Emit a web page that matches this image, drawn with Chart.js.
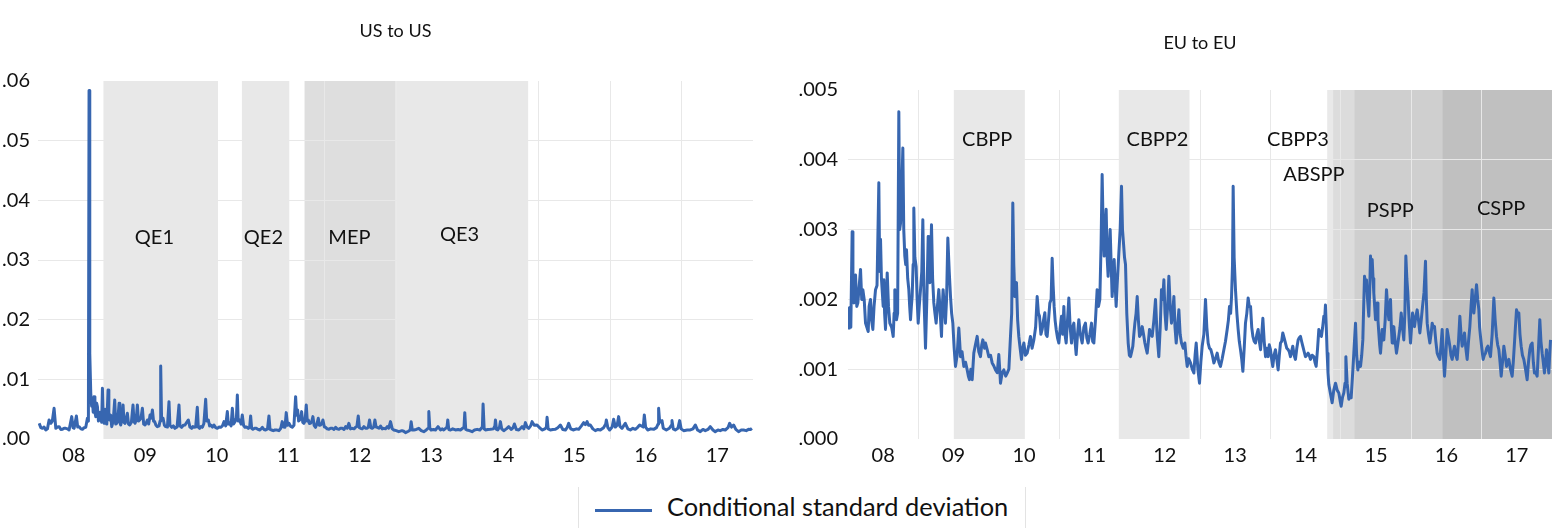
<!DOCTYPE html>
<html>
<head>
<meta charset="utf-8">
<title>Conditional standard deviation</title>
<script src="https://cdn.jsdelivr.net/npm/chart.js@4.4.1/dist/chart.umd.min.js"></script>
<style>
  html, body { margin: 0; padding: 0; background: #fff; }
  body { width: 1557px; height: 528px; position: relative; overflow: hidden; font-family: Lato, sans-serif; color: #111; }
  .panel { position: absolute; top: 0; }
  #usPanel { left: 0; }
  #euPanel { left: 780px; }
  #legend { position: absolute; left: 578px; top: 487px; width: 446px; height: 45px;
            border-left: 1px solid #e3e3e3; border-right: 1px solid #e3e3e3; }
  #legend .swatch { position: absolute; left: 16px; top: 22px; width: 57px; height: 3px; background: #3766b0; }
  #legend .label { position: absolute; left: 88px; top: 5px; font-size: 25.4px; line-height: 29px; white-space: nowrap; }
</style>
</head>
<body>
<div class="panel" id="usPanel"><canvas id="usChart" width="760" height="470" style="width:760px;height:470px"></canvas></div>
<div class="panel" id="euPanel"><canvas id="euChart" width="777" height="470" style="width:777px;height:470px"></canvas></div>
<div id="legend"><span class="swatch"></span><span class="label">Conditional standard deviation</span></div>

<script>
// x positions are in years (08 = 2008), values are conditional std. deviations
const yearTicks = [8, 9, 10, 11, 12, 13, 14, 15, 16, 17];
const yearLabels = ['08', '09', '10', '11', '12', '13', '14', '15', '16', '17'];
const usYTicks = [0, 0.01, 0.02, 0.03, 0.04, 0.05, 0.06];
const euYTicks = [0, 0.001, 0.002, 0.003, 0.004, 0.005];

const usTime = [
  7.516, 7.540, 7.562, 7.585, 7.609, 7.632, 7.655, 7.679, 7.700, 7.725,
  7.749, 7.772, 7.795, 7.820, 7.842, 7.865, 7.888, 7.912, 7.935, 7.972,
  7.990, 8.005, 8.037, 8.055, 8.075, 8.100, 8.121, 8.145, 8.168, 8.191,
  8.205, 8.214, 8.224, 8.238, 8.250, 8.261, 8.272, 8.284, 8.296, 8.308,
  8.320, 8.331, 8.345, 8.354, 8.366, 8.377, 8.390, 8.401, 8.412, 8.424,
  8.437, 8.447, 8.462, 8.480, 8.491, 8.503, 8.517, 8.531, 8.552, 8.573,
  8.587, 8.601, 8.618, 8.634, 8.645, 8.657, 8.674, 8.690, 8.703, 8.718,
  8.735, 8.750, 8.766, 8.783, 8.806, 8.829, 8.843, 8.857, 8.873, 8.890,
  8.905, 8.922, 8.940, 8.960, 8.978, 8.997, 9.013, 9.030, 9.048, 9.067,
  9.084, 9.100, 9.116, 9.132, 9.150, 9.169, 9.193, 9.207, 9.216, 9.228,
  9.249, 9.268, 9.286, 9.310, 9.332, 9.345, 9.370, 9.393, 9.416, 9.445,
  9.472, 9.485, 9.509, 9.532, 9.556, 9.580, 9.603, 9.625, 9.649, 9.665,
  9.682, 9.705, 9.728, 9.742, 9.761, 9.780, 9.798, 9.820, 9.845, 9.860,
  9.882, 9.900, 9.915, 9.940, 9.961, 9.985, 10.008, 10.030, 10.055, 10.080,
  10.101, 10.125, 10.148, 10.162, 10.180, 10.200, 10.218, 10.235, 10.255, 10.275,
  10.288, 10.300, 10.320, 10.340, 10.357, 10.375, 10.395, 10.420, 10.441, 10.460,
  10.474, 10.488, 10.506, 10.530, 10.553, 10.578, 10.600, 10.620, 10.637, 10.660,
  10.683, 10.710, 10.730, 10.745, 10.767, 10.790, 10.814, 10.845, 10.870, 10.895,
  10.916, 10.935, 10.954, 10.972, 10.990, 11.010, 11.035, 11.056, 11.080, 11.103,
  11.117, 11.131, 11.145, 11.159, 11.175, 11.187, 11.203, 11.219, 11.235, 11.252,
  11.266, 11.280, 11.296, 11.312, 11.330, 11.345, 11.362, 11.382, 11.400, 11.420,
  11.436, 11.452, 11.470, 11.485, 11.505, 11.522, 11.545, 11.569, 11.592, 11.615,
  11.640, 11.662, 11.685, 11.709, 11.730, 11.755, 11.780, 11.802, 11.825, 11.848,
  11.870, 11.895, 11.920, 11.941, 11.960, 11.979, 11.995, 12.011, 12.035, 12.058,
  12.080, 12.104, 12.120, 12.137, 12.155, 12.174, 12.195, 12.212, 12.228, 12.244,
  12.270, 12.291, 12.315, 12.337, 12.360, 12.384, 12.405, 12.430, 12.455, 12.477,
  12.510, 12.546, 12.590, 12.615, 12.640, 12.680, 12.705, 12.719, 12.735, 12.756,
  12.790, 12.826, 12.860, 12.896, 12.930, 12.955, 12.966, 12.980, 12.998, 13.030,
  13.059, 13.095, 13.129, 13.155, 13.175, 13.220, 13.231, 13.245, 13.269, 13.300,
  13.338, 13.375, 13.408, 13.440, 13.458, 13.469, 13.482, 13.502, 13.535, 13.571,
  13.605, 13.641, 13.680, 13.715, 13.725, 13.740, 13.758, 13.790, 13.828, 13.870,
  13.890, 13.898, 13.912, 13.930, 13.955, 13.967, 13.985, 14.014, 14.050, 14.084,
  14.120, 14.145, 14.163, 14.190, 14.224, 14.250, 14.270, 14.295, 14.317, 14.340,
  14.363, 14.390, 14.410, 14.440, 14.480, 14.515, 14.550, 14.590, 14.610, 14.620,
  14.635, 14.666, 14.700, 14.736, 14.770, 14.806, 14.840, 14.876, 14.900, 14.922,
  14.950, 14.992, 15.030, 15.062, 15.100, 15.132, 15.155, 15.179, 15.200, 15.225,
  15.260, 15.295, 15.330, 15.365, 15.410, 15.440, 15.449, 15.470, 15.495, 15.530,
  15.551, 15.575, 15.600, 15.621, 15.640, 15.668, 15.690, 15.714, 15.750, 15.784,
  15.820, 15.854, 15.890, 15.915, 15.965, 15.980, 15.998, 16.027, 16.070, 16.110,
  16.150, 16.172, 16.180, 16.195, 16.227, 16.245, 16.288, 16.330, 16.358, 16.367,
  16.385, 16.413, 16.450, 16.474, 16.495, 16.530, 16.580, 16.623, 16.660, 16.693,
  16.725, 16.763, 16.800, 16.833, 16.870, 16.902, 16.940, 16.972, 17.010, 17.042,
  17.080, 17.112, 17.150, 17.173, 17.200, 17.229, 17.260, 17.298, 17.335, 17.368,
  17.405, 17.438, 17.465, 17.485
];
const usValue = [
  2.63e-3, 1.9e-3, 1.79e-3, 2.0e-3, 1.51e-3, 1.7e-3, 3.19e-3, 2.63e-3, 3.0e-3, 5.15e-3,
  1.79e-3, 2.0e-3, 2.07e-3, 1.6e-3, 1.62e-3, 1.8e-3, 1.79e-3, 1.7e-3, 1.51e-3, 3.75e-3,
  1.9e-3, 1.79e-3, 3.86e-3, 2.0e-3, 2.07e-3, 1.7e-3, 1.62e-3, 1.9e-3, 1.96e-3, 3.47e-3,
  3.0e-3, 58.4e-3, 14.4e-3, 7.66e-3, 5.5e-3, 6.5e-3, 4.5e-3, 7.1e-3, 4.5e-3, 3.75e-3,
  6.0e-3, 5.43e-3, 3.0e-3, 3.19e-3, 4.5e-3, 4.03e-3, 2.8e-3, 8.5e-3, 3.5e-3, 2.63e-3,
  5.0e-3, 4.31e-3, 2.5e-3, 8.22e-3, 4.0e-3, 3.19e-3, 4.0e-3, 2.07e-3, 3.0e-3, 6.54e-3,
  2.5e-3, 2.63e-3, 3.5e-3, 5.98e-3, 2.8e-3, 2.35e-3, 3.2e-3, 5.7e-3, 2.8e-3, 2.63e-3,
  3.5e-3, 4.31e-3, 2.5e-3, 2.35e-3, 2.8e-3, 5.7e-3, 2.9e-3, 2.63e-3, 3.2e-3, 5.7e-3,
  3.0e-3, 3.19e-3, 3.5e-3, 5.15e-3, 2.5e-3, 2.35e-3, 2.7e-3, 3.19e-3, 2.5e-3, 4.03e-3,
  3.5e-3, 4.87e-3, 3.0e-3, 2.91e-3, 2.3e-3, 2.07e-3, 2.2e-3, 3.0e-3, 12.25e-3, 3.5e-3,
  3.47e-3, 2.3e-3, 2.07e-3, 2.0e-3, 6.26e-3, 2.3e-3, 1.96e-3, 2.2e-3, 1.79e-3, 2.0e-3,
  5.7e-3, 2.2e-3, 1.96e-3, 2.3e-3, 2.35e-3, 2.8e-3, 3.19e-3, 2.0e-3, 1.79e-3, 2.1e-3,
  1.96e-3, 2.0e-3, 5.31e-3, 2.0e-3, 1.79e-3, 2.1e-3, 1.96e-3, 2.6e-3, 6.65e-3, 3.0e-3,
  3.19e-3, 2.2e-3, 2.35e-3, 2.0e-3, 2.35e-3, 1.9e-3, 1.79e-3, 2.0e-3, 1.96e-3, 2.2e-3,
  2.91e-3, 2.2e-3, 4.59e-3, 2.5e-3, 2.63e-3, 2.2e-3, 5.15e-3, 2.5e-3, 2.91e-3, 3.5e-3,
  7.38e-3, 3.0e-3, 3.19e-3, 2.5e-3, 4.03e-3, 2.3e-3, 1.96e-3, 2.0e-3, 1.79e-3, 2.0e-3,
  3.86e-3, 1.8e-3, 1.62e-3, 1.8e-3, 1.79e-3, 1.6e-3, 1.51e-3, 1.7e-3, 1.96e-3, 1.6e-3,
  1.51e-3, 1.7e-3, 3.86e-3, 1.6e-3, 1.51e-3, 1.4e-3, 1.51e-3, 1.5e-3, 1.4e-3, 1.8e-3,
  2.91e-3, 2.0e-3, 1.96e-3, 4.42e-3, 2.3e-3, 2.63e-3, 2.1e-3, 1.96e-3, 2.3e-3, 7.1e-3,
  4.0e-3, 4.87e-3, 3.0e-3, 3.19e-3, 3.5e-3, 4.59e-3, 2.8e-3, 2.63e-3, 3.0e-3, 5.7e-3,
  3.0e-3, 3.19e-3, 2.6e-3, 2.63e-3, 3.0e-3, 3.75e-3, 2.3e-3, 1.96e-3, 2.5e-3, 3.47e-3,
  2.3e-3, 2.35e-3, 2.6e-3, 3.19e-3, 2.0e-3, 1.96e-3, 1.7e-3, 1.62e-3, 1.8e-3, 1.79e-3,
  1.6e-3, 1.96e-3, 1.7e-3, 1.62e-3, 1.8e-3, 1.79e-3, 1.6e-3, 2.07e-3, 1.8e-3, 2.63e-3,
  1.7e-3, 1.79e-3, 1.7e-3, 1.96e-3, 2.1e-3, 3.86e-3, 1.9e-3, 1.79e-3, 1.7e-3, 2.07e-3,
  1.8e-3, 1.79e-3, 2.0e-3, 3.19e-3, 1.9e-3, 1.79e-3, 2.0e-3, 3.19e-3, 2.0e-3, 1.96e-3,
  1.8e-3, 2.18e-3, 1.7e-3, 1.79e-3, 1.7e-3, 2.07e-3, 1.8e-3, 2.91e-3, 1.7e-3, 1.51e-3,
  1.4e-3, 1.23e-3, 1.4e-3, 1.3e-3, 1.06e-3, 1.3e-3, 1.5e-3, 2.91e-3, 1.5e-3, 1.51e-3,
  1.6e-3, 1.79e-3, 1.4e-3, 1.23e-3, 1.5e-3, 1.8e-3, 4.59e-3, 1.8e-3, 1.51e-3, 1.6e-3,
  1.51e-3, 2.07e-3, 1.51e-3, 1.7e-3, 1.51e-3, 2.0e-3, 3.19e-3, 1.6e-3, 1.51e-3, 1.7e-3,
  1.51e-3, 1.6e-3, 1.51e-3, 1.8e-3, 2.0e-3, 4.42e-3, 1.6e-3, 1.51e-3, 1.4e-3, 1.23e-3,
  1.5e-3, 1.62e-3, 1.5e-3, 2.0e-3, 5.87e-3, 1.7e-3, 1.51e-3, 1.6e-3, 1.62e-3, 1.7e-3,
  2.2e-3, 3.19e-3, 1.6e-3, 1.51e-3, 2.0e-3, 2.91e-3, 1.7e-3, 1.4e-3, 1.7e-3, 2.07e-3,
  1.6e-3, 1.9e-3, 2.52e-3, 1.6e-3, 1.51e-3, 1.8e-3, 2.07e-3, 1.7e-3, 2.74e-3, 2.0e-3,
  1.79e-3, 2.2e-3, 2.91e-3, 2.3e-3, 2.35e-3, 1.9e-3, 1.51e-3, 1.7e-3, 2.0e-3, 3.64e-3,
  1.7e-3, 1.51e-3, 1.6e-3, 1.62e-3, 1.9e-3, 2.35e-3, 1.6e-3, 1.51e-3, 1.9e-3, 2.63e-3,
  1.7e-3, 1.51e-3, 1.7e-3, 1.62e-3, 2.2e-3, 2.74e-3, 2.4e-3, 2.91e-3, 2.3e-3, 2.35e-3,
  1.7e-3, 1.4e-3, 1.6e-3, 1.51e-3, 1.9e-3, 2.5e-3, 3.19e-3, 1.9e-3, 1.51e-3, 2.0e-3,
  3.3e-3, 2.0e-3, 2.3e-3, 3.75e-3, 2.1e-3, 1.79e-3, 2.2e-3, 2.63e-3, 1.7e-3, 1.51e-3,
  1.8e-3, 1.62e-3, 2.0e-3, 2.35e-3, 2.0e-3, 4.03e-3, 2.0e-3, 1.51e-3, 1.7e-3, 1.62e-3,
  1.9e-3, 2.5e-3, 5.15e-3, 2.8e-3, 3.08e-3, 1.8e-3, 1.51e-3, 1.8e-3, 2.3e-3, 3.08e-3,
  1.7e-3, 1.51e-3, 1.8e-3, 3.08e-3, 1.7e-3, 1.4e-3, 1.5e-3, 1.51e-3, 1.7e-3, 2.35e-3,
  1.5e-3, 1.23e-3, 1.6e-3, 1.4e-3, 1.6e-3, 2.07e-3, 1.5e-3, 1.23e-3, 1.5e-3, 1.4e-3,
  1.6e-3, 1.51e-3, 1.9e-3, 2.63e-3, 2.0e-3, 2.35e-3, 1.6e-3, 1.23e-3, 1.5e-3, 1.51e-3,
  1.4e-3, 1.62e-3, 1.6e-3, 1.79e-3
];

const euTime = [
  7.512, 7.521, 7.540, 7.559, 7.570, 7.583, 7.595, 7.607, 7.625, 7.640,
  7.660, 7.678, 7.695, 7.711, 7.730, 7.749, 7.768, 7.787, 7.800, 7.820,
  7.835, 7.853, 7.870, 7.891, 7.912, 7.938, 7.950, 7.962, 7.975, 7.985,
  8.000, 8.009, 8.020, 8.033, 8.045, 8.057, 8.075, 8.094, 8.120, 8.142,
  8.155, 8.165, 8.178, 8.189, 8.205, 8.222, 8.234, 8.246, 8.262, 8.279,
  8.292, 8.307, 8.320, 8.331, 8.348, 8.364, 8.376, 8.388, 8.400, 8.411,
  8.425, 8.435, 8.450, 8.468, 8.482, 8.497, 8.512, 8.530, 8.548, 8.563,
  8.580, 8.601, 8.620, 8.639, 8.650, 8.662, 8.675, 8.686, 8.702, 8.719,
  8.735, 8.752, 8.770, 8.790, 8.810, 8.828, 8.840, 8.851, 8.868, 8.884,
  8.900, 8.918, 8.938, 8.956, 8.972, 8.989, 9.008, 9.027, 9.050, 9.074,
  9.086, 9.098, 9.120, 9.145, 9.170, 9.193, 9.210, 9.226, 9.245, 9.264,
  9.287, 9.310, 9.335, 9.358, 9.382, 9.400, 9.415, 9.440, 9.453, 9.477,
  9.500, 9.525, 9.548, 9.570, 9.595, 9.620, 9.642, 9.655, 9.666, 9.690,
  9.713, 9.740, 9.761, 9.785, 9.808, 9.825, 9.841, 9.855, 9.870, 9.882,
  9.893, 9.910, 9.926, 9.945, 9.964, 9.980, 9.998, 10.020, 10.045, 10.070,
  10.092, 10.115, 10.140, 10.165, 10.187, 10.205, 10.220, 10.240, 10.258, 10.277,
  10.296, 10.312, 10.329, 10.348, 10.367, 10.385, 10.400, 10.414, 10.428, 10.442,
  10.457, 10.476, 10.495, 10.515, 10.533, 10.550, 10.566, 10.582, 10.599, 10.618,
  10.637, 10.656, 10.675, 10.690, 10.708, 10.725, 10.741, 10.760, 10.779, 10.800,
  10.826, 10.850, 10.873, 10.892, 10.911, 10.935, 10.959, 10.975, 10.992, 11.015,
  11.039, 11.058, 11.077, 11.095, 11.110, 11.125, 11.139, 11.153, 11.167, 11.181,
  11.195, 11.210, 11.224, 11.238, 11.252, 11.267, 11.281, 11.295, 11.309, 11.328,
  11.347, 11.366, 11.385, 11.399, 11.413, 11.428, 11.442, 11.460, 11.480, 11.497,
  11.513, 11.530, 11.546, 11.560, 11.575, 11.592, 11.608, 11.625, 11.641, 11.660,
  11.679, 11.698, 11.717, 11.733, 11.750, 11.767, 11.783, 11.800, 11.821, 11.845,
  11.868, 11.890, 11.915, 11.935, 11.953, 11.970, 11.987, 12.003, 12.020, 12.040,
  12.058, 12.077, 12.095, 12.112, 12.129, 12.145, 12.162, 12.180, 12.200, 12.218,
  12.237, 12.262, 12.285, 12.300, 12.318, 12.340, 12.365, 12.390, 12.413, 12.430,
  12.446, 12.470, 12.493, 12.512, 12.531, 12.555, 12.578, 12.597, 12.616, 12.635,
  12.654, 12.675, 12.697, 12.720, 12.744, 12.768, 12.791, 12.815, 12.839, 12.862,
  12.886, 12.903, 12.919, 12.935, 12.948, 12.962, 12.971, 12.985, 13.004, 13.024,
  13.042, 13.058, 13.075, 13.092, 13.109, 13.128, 13.146, 13.165, 13.184, 13.200,
  13.218, 13.235, 13.251, 13.270, 13.289, 13.308, 13.326, 13.343, 13.360, 13.377,
  13.393, 13.412, 13.431, 13.450, 13.468, 13.484, 13.501, 13.517, 13.534, 13.552,
  13.572, 13.590, 13.610, 13.627, 13.643, 13.660, 13.676, 13.695, 13.714, 13.733,
  13.752, 13.768, 13.785, 13.800, 13.818, 13.837, 13.856, 13.875, 13.894, 13.910,
  13.927, 13.943, 13.960, 13.980, 13.998, 14.017, 14.036, 14.052, 14.069, 14.093,
  14.117, 14.133, 14.150, 14.170, 14.188, 14.205, 14.225, 14.242, 14.259, 14.270,
  14.282, 14.294, 14.306, 14.318, 14.330, 14.353, 14.377, 14.400, 14.425, 14.448,
  14.472, 14.490, 14.505, 14.525, 14.543, 14.560, 14.572, 14.590, 14.614, 14.630,
  14.647, 14.666, 14.685, 14.709, 14.725, 14.742, 14.760, 14.780, 14.797, 14.813,
  14.825, 14.837, 14.851, 14.865, 14.880, 14.898, 14.910, 14.922, 14.934, 14.946,
  14.958, 14.969, 14.981, 14.993, 15.005, 15.017, 15.028, 15.040, 15.052, 15.064,
  15.076, 15.088, 15.100, 15.111, 15.130, 15.149, 15.165, 15.182, 15.194, 15.206,
  15.218, 15.230, 15.241, 15.253, 15.272, 15.291, 15.308, 15.324, 15.341, 15.358,
  15.376, 15.395, 15.410, 15.424, 15.438, 15.452, 15.470, 15.490, 15.505, 15.519,
  15.533, 15.547, 15.565, 15.585, 15.604, 15.623, 15.642, 15.661, 15.682, 15.703,
  15.715, 15.727, 15.746, 15.765, 15.782, 15.798, 15.815, 15.831, 15.850, 15.869,
  15.888, 15.907, 15.924, 15.940, 15.957, 15.973, 15.992, 16.011, 16.030, 16.049,
  16.065, 16.082, 16.099, 16.115, 16.134, 16.153, 16.172, 16.191, 16.208, 16.224,
  16.240, 16.257, 16.276, 16.295, 16.314, 16.333, 16.350, 16.366, 16.378, 16.390,
  16.409, 16.428, 16.445, 16.461, 16.472, 16.484, 16.503, 16.522, 16.538, 16.555,
  16.572, 16.589, 16.608, 16.626, 16.650, 16.674, 16.693, 16.712, 16.728, 16.745,
  16.762, 16.778, 16.797, 16.816, 16.835, 16.854, 16.870, 16.887, 16.910, 16.934,
  16.950, 16.967, 16.980, 16.996, 17.012, 17.029, 17.045, 17.062, 17.080, 17.100,
  17.124, 17.147, 17.166, 17.185, 17.200, 17.218, 17.235, 17.251, 17.270, 17.289,
  17.308, 17.327, 17.343, 17.360, 17.376, 17.393, 17.408, 17.422, 17.438, 17.455,
  17.467, 17.479
];
const euValue = [
  1.57e-3, 1.88e-3, 1.6e-3, 2.97e-3, 2.0e-3, 1.95e-3, 2.3e-3, 2.35e-3, 1.9e-3, 1.95e-3,
  2.2e-3, 2.43e-3, 2.0e-3, 2.14e-3, 2.0e-3, 1.66e-3, 1.6e-3, 1.54e-3, 1.9e-3, 2.0e-3,
  1.7e-3, 1.57e-3, 1.9e-3, 2.14e-3, 2.2e-3, 3.67e-3, 2.4e-3, 2.86e-3, 2.3e-3, 2.14e-3,
  1.9e-3, 2.28e-3, 1.8e-3, 1.57e-3, 2.0e-3, 2.38e-3, 1.9e-3, 1.66e-3, 1.6e-3, 1.47e-3,
  1.8e-3, 2.14e-3, 1.9e-3, 1.71e-3, 1.8e-3, 4.69e-3, 3.0e-3, 3.09e-3, 3.5e-3, 4.17e-3,
  3.0e-3, 2.62e-3, 2.5e-3, 2.71e-3, 2.3e-3, 2.14e-3, 1.9e-3, 1.71e-3, 1.9e-3, 2.04e-3,
  2.5e-3, 3.31e-3, 2.6e-3, 2.47e-3, 2.0e-3, 1.66e-3, 1.9e-3, 2.14e-3, 2.4e-3, 3.14e-3,
  2.0e-3, 1.3e-3, 2.0e-3, 2.9e-3, 2.5e-3, 2.24e-3, 2.5e-3, 3.07e-3, 2.3e-3, 1.95e-3,
  1.8e-3, 1.66e-3, 1.9e-3, 2.14e-3, 1.8e-3, 1.47e-3, 1.9e-3, 2.14e-3, 1.9e-3, 1.66e-3,
  2.0e-3, 2.88e-3, 2.4e-3, 2.04e-3, 1.8e-3, 1.66e-3, 1.3e-3, 1.04e-3, 1.2e-3, 1.59e-3,
  1.4e-3, 1.18e-3, 1.25e-3, 1.04e-3, 1.1e-3, 0.99e-3, 0.9e-3, 0.85e-3, 1.0e-3, 0.85e-3,
  1.23e-3, 1.35e-3, 1.47e-3, 1.25e-3, 1.18e-3, 1.35e-3, 1.42e-3, 1.3e-3, 1.375e-3, 1.28e-3,
  1.18e-3, 1.2e-3, 1.09e-3, 1.05e-3, 0.99e-3, 0.95e-3, 1.21e-3, 1.0e-3, 0.8e-3, 0.95e-3,
  0.99e-3, 0.9e-3, 0.945e-3, 1.0e-3, 1.47e-3, 1.8e-3, 3.38e-3, 2.5e-3, 2.04e-3, 2.2e-3,
  2.24e-3, 1.7e-3, 1.47e-3, 1.3e-3, 1.14e-3, 1.3e-3, 1.375e-3, 1.2e-3, 1.23e-3, 1.35e-3,
  1.47e-3, 1.3e-3, 1.42e-3, 1.6e-3, 2.04e-3, 1.8e-3, 1.76e-3, 1.5e-3, 1.57e-3, 1.7e-3,
  1.81e-3, 1.5e-3, 1.47e-3, 1.7e-3, 1.95e-3, 2.0e-3, 2.59e-3, 2.2e-3, 1.9e-3, 1.7e-3,
  1.57e-3, 1.45e-3, 1.375e-3, 1.6e-3, 1.76e-3, 1.5e-3, 1.9e-3, 1.5e-3, 1.375e-3, 1.7e-3,
  2.02e-3, 1.6e-3, 1.375e-3, 1.6e-3, 1.66e-3, 1.4e-3, 1.21e-3, 1.5e-3, 1.71e-3, 1.5e-3,
  1.375e-3, 1.6e-3, 1.66e-3, 1.45e-3, 1.375e-3, 1.5e-3, 1.66e-3, 1.4e-3, 1.375e-3, 1.7e-3,
  2.14e-3, 1.9e-3, 2.0e-3, 2.8e-3, 3.79e-3, 3.0e-3, 2.62e-3, 3.0e-3, 3.29e-3, 2.6e-3,
  2.33e-3, 2.7e-3, 3.0e-3, 2.5e-3, 2.04e-3, 2.3e-3, 2.57e-3, 2.2e-3, 1.9e-3, 2.3e-3,
  2.66e-3, 3.0e-3, 3.62e-3, 3.0e-3, 2.81e-3, 2.6e-3, 2.5e-3, 1.8e-3, 1.375e-3, 1.2e-3,
  1.18e-3, 1.25e-3, 1.33e-3, 1.5e-3, 1.66e-3, 1.8e-3, 2.04e-3, 1.7e-3, 1.47e-3, 1.5e-3,
  1.61e-3, 1.5e-3, 1.375e-3, 1.3e-3, 1.23e-3, 1.4e-3, 1.57e-3, 1.5e-3, 1.47e-3, 1.7e-3,
  2.0e-3, 1.5e-3, 1.18e-3, 1.6e-3, 2.14e-3, 2.0e-3, 2.28e-3, 1.8e-3, 1.57e-3, 1.9e-3,
  2.33e-3, 1.9e-3, 1.66e-3, 1.8e-3, 2.04e-3, 1.6e-3, 1.375e-3, 1.6e-3, 1.85e-3, 1.5e-3,
  1.375e-3, 1.3e-3, 1.375e-3, 1.2e-3, 1.04e-3, 1.15e-3, 1.09e-3, 1.0e-3, 0.945e-3, 1.2e-3,
  1.375e-3, 1.0e-3, 0.8e-3, 1.1e-3, 1.33e-3, 1.5e-3, 2.0e-3, 1.6e-3, 1.375e-3, 1.3e-3,
  1.28e-3, 1.2e-3, 1.09e-3, 1.15e-3, 1.23e-3, 1.1e-3, 1.04e-3, 1.15e-3, 1.28e-3, 1.4e-3,
  1.57e-3, 1.7e-3, 1.9e-3, 1.8e-3, 2.04e-3, 2.5e-3, 3.62e-3, 2.6e-3, 2.14e-3, 1.8e-3,
  1.57e-3, 1.4e-3, 1.28e-3, 1.15e-3, 0.97e-3, 1.3e-3, 1.66e-3, 1.8e-3, 2.02e-3, 1.9e-3,
  1.9e-3, 1.6e-3, 1.47e-3, 1.4e-3, 1.375e-3, 1.5e-3, 1.57e-3, 1.4e-3, 1.28e-3, 1.5e-3,
  1.73e-3, 1.4e-3, 1.18e-3, 1.3e-3, 1.18e-3, 1.35e-3, 1.28e-3, 1.15e-3, 1.04e-3, 1.2e-3,
  1.28e-3, 1.15e-3, 0.99e-3, 1.2e-3, 1.375e-3, 1.4e-3, 1.52e-3, 1.45e-3, 1.375e-3, 1.3e-3,
  1.28e-3, 1.25e-3, 1.18e-3, 1.25e-3, 1.33e-3, 1.2e-3, 1.14e-3, 1.3e-3, 1.42e-3, 1.45e-3,
  1.47e-3, 1.4e-3, 1.33e-3, 1.25e-3, 1.18e-3, 1.2e-3, 1.23e-3, 1.2e-3, 1.14e-3, 1.2e-3,
  1.18e-3, 1.1e-3, 1.04e-3, 1.3e-3, 1.57e-3, 1.5e-3, 1.47e-3, 1.6e-3, 1.76e-3, 1.7e-3,
  1.92e-3, 1.6e-3, 1.23e-3, 0.95e-3, 0.78e-3, 0.65e-3, 0.52e-3, 0.7e-3, 0.8e-3, 0.7e-3,
  0.66e-3, 0.55e-3, 0.47e-3, 0.6e-3, 0.66e-3, 0.8e-3, 1.18e-3, 0.8e-3, 0.57e-3, 0.62e-3,
  0.59e-3, 0.9e-3, 1.23e-3, 1.66e-3, 1.2e-3, 0.99e-3, 1.1e-3, 1.04e-3, 1.2e-3, 1.42e-3,
  1.9e-3, 2.33e-3, 2.24e-3, 2.28e-3, 2.0e-3, 1.76e-3, 2.1e-3, 2.62e-3, 2.4e-3, 2.57e-3,
  2.3e-3, 2.09e-3, 1.9e-3, 1.71e-3, 1.8e-3, 1.95e-3, 1.7e-3, 1.52e-3, 1.35e-3, 1.23e-3,
  1.4e-3, 1.57e-3, 1.5e-3, 1.42e-3, 1.7e-3, 2.14e-3, 1.9e-3, 1.71e-3, 1.85e-3, 2.0e-3,
  1.6e-3, 1.375e-3, 1.5e-3, 1.61e-3, 1.4e-3, 1.23e-3, 1.35e-3, 1.47e-3, 1.6e-3, 1.805e-3,
  1.6e-3, 1.42e-3, 1.8e-3, 2.62e-3, 2.3e-3, 2.09e-3, 1.7e-3, 1.375e-3, 1.6e-3, 1.805e-3,
  1.7e-3, 1.61e-3, 1.75e-3, 1.85e-3, 1.7e-3, 1.52e-3, 1.7e-3, 1.9e-3, 2.1e-3, 2.545e-3,
  2.0e-3, 1.66e-3, 1.5e-3, 1.375e-3, 1.5e-3, 1.66e-3, 1.6e-3, 1.61e-3, 1.4e-3, 1.23e-3,
  1.18e-3, 1.14e-3, 1.35e-3, 1.57e-3, 1.2e-3, 0.9e-3, 1.2e-3, 1.57e-3, 1.45e-3, 1.33e-3,
  1.2e-3, 1.14e-3, 1.25e-3, 1.33e-3, 1.2e-3, 1.14e-3, 1.4e-3, 1.76e-3, 1.5e-3, 1.33e-3,
  1.4e-3, 1.52e-3, 1.3e-3, 1.14e-3, 1.4e-3, 1.61e-3, 1.9e-3, 2.14e-3, 1.9e-3, 1.805e-3,
  2.0e-3, 2.21e-3, 2.0e-3, 1.85e-3, 1.6e-3, 1.47e-3, 1.3e-3, 1.14e-3, 1.2e-3, 1.23e-3,
  1.3e-3, 1.33e-3, 1.25e-3, 1.18e-3, 1.5e-3, 2.02e-3, 1.7e-3, 1.47e-3, 1.35e-3, 1.28e-3,
  1.1e-3, 0.9e-3, 1.1e-3, 1.33e-3, 1.2e-3, 1.04e-3, 1.1e-3, 1.14e-3, 1.0e-3, 0.9e-3,
  1.1e-3, 1.375e-3, 1.6e-3, 1.85e-3, 1.8e-3, 1.805e-3, 1.5e-3, 1.33e-3, 1.2e-3, 1.14e-3,
  1.0e-3, 0.85e-3, 1.1e-3, 1.28e-3, 1.35e-3, 1.375e-3, 1.1e-3, 0.946e-3, 0.95e-3, 0.9e-3,
  1.3e-3, 1.71e-3, 1.4e-3, 1.23e-3, 1.1e-3, 0.946e-3, 1.1e-3, 1.28e-3, 1.1e-3, 0.946e-3,
  1.2e-3, 1.42e-3
];

// policy programmes shaded behind each panel (label anchor in data units)
const usPrograms = [
  { name: 'QE1', from: 8.415, to: 10.017, color: '#e8e8e8', labelX: 9.128, labelY: 0.0338 },
  { name: 'QE2', from: 10.352, to: 11.014, color: '#e8e8e8', labelX: 10.653, labelY: 0.0338 },
  { name: 'MEP', from: 11.228, to: 12.514, color: '#dedede', labelX: 11.855, labelY: 0.0338 },
  { name: 'QE3', from: 12.514, to: 14.355, color: '#e8e8e8', labelX: 13.395, labelY: 0.0343 }
];
const euPrograms = [
  { name: 'CBPP', from: 9.003, to: 10.012, color: '#e8e8e8', labelX: 9.477, labelY: 0.00429 },
  { name: 'CBPP2', from: 11.347, to: 12.351, color: '#e8e8e8', labelX: 11.896, labelY: 0.00429 },
  { name: 'CBPP3', from: 14.307, to: 17.6, color: '#e9e9e9', labelX: 13.892, labelY: 0.00429 },
  { name: 'ABSPP', from: 14.392, to: 17.6, color: '#dcdcdc', labelX: 14.117, labelY: 0.00379 },
  { name: 'PSPP', from: 14.695, to: 17.6, color: '#cfcfcf', labelX: 15.202, labelY: 0.00328 },
  { name: 'CSPP', from: 15.946, to: 17.6, color: '#c0c0c0', labelX: 16.776, labelY: 0.0033 }
];

const LINE_BLUE = '#3766b0';
const GRID = '#e8e8e8';
const TEXT = '#111';

const programShading = {
  id: 'programShading',
  beforeDraw(chart, args, opts) {
    const { ctx, chartArea: area, scales: { x } } = chart;
    ctx.save();
    opts.programs.forEach(p => {
      const x0 = Math.max(area.left, x.getPixelForValue(p.from));
      const x1 = Math.min(area.right, x.getPixelForValue(p.to));
      ctx.fillStyle = p.color;
      ctx.fillRect(x0, area.top, x1 - x0, area.bottom - area.top);
    });
    ctx.restore();
  },
  afterDraw(chart, args, opts) {
    const { ctx, scales: { x, y } } = chart;
    ctx.save();
    ctx.font = '20px Lato';
    ctx.fillStyle = TEXT;
    ctx.textAlign = 'center';
    ctx.textBaseline = 'middle';
    opts.programs.forEach(p => {
      ctx.fillText(p.name, x.getPixelForValue(p.labelX), y.getPixelForValue(p.labelY));
    });
    ctx.restore();
  }
};

function renderPanel(canvasId, title, times, values, yTicks, digits, programs, layout) {
  const ctx = document.getElementById(canvasId).getContext('2d');
  const yMax = yTicks[yTicks.length - 1];

  new Chart(ctx, {
    type: 'line',
    data: {
      datasets: [{
        label: 'Conditional standard deviation',
        data: times.map((t, i) => ({ x: t, y: values[i] })),
        borderColor: LINE_BLUE,
        borderWidth: 3,
        borderJoinStyle: 'round',
        pointRadius: 0,
        tension: 0,
        fill: false
      }]
    },
    options: {
      responsive: false,
      animation: false,
      layout: { padding: { left: 0, right: layout.padRight, top: 0, bottom: 0 } },
      plugins: {
        legend: { display: false },
        tooltip: { enabled: false },
        title: {
          display: true,
          text: title,
          fullSize: false,
          color: TEXT,
          font: { family: 'Lato', size: 18, weight: 'normal' },
          padding: { top: layout.titleTop, bottom: layout.titleBottom }
        },
        programShading: { programs: programs }
      },
      scales: {
        x: {
          type: 'linear',
          min: 7.5,
          max: 17.5,
          afterBuildTicks: s => { s.ticks = yearTicks.map(v => ({ value: v })); },
          afterFit: s => { s.height = 31; },
          ticks: {
            callback: (v, i) => yearLabels[i],
            autoSkip: false,
            maxRotation: 0,
            padding: 5,
            color: TEXT,
            font: { family: 'Lato', size: 20 }
          },
          grid: {
            offset: true,
            drawTicks: false,
            lineWidth: 1,
            color: c => (c.index > 0 && c.index < yearTicks.length) ? GRID : 'transparent'
          },
          border: { display: false }
        },
        y: {
          min: 0,
          max: yMax,
          afterBuildTicks: s => { s.ticks = yTicks.map(v => ({ value: v })); },
          afterFit: s => { s.width = layout.yWidth; },
          ticks: {
            callback: v => v.toFixed(digits).replace(/^0/, ''),
            padding: layout.yPad,
            color: TEXT,
            font: { family: 'Lato', size: 20 }
          },
          grid: {
            drawTicks: false,
            lineWidth: 1,
            color: c => (c.tick && c.tick.value > 0 && c.tick.value < yMax - 1e-9) ? GRID : 'transparent'
          },
          border: { display: false }
        }
      }
    },
    plugins: [programShading]
  });
}

renderPanel('usChart', 'US to US', usTime, usValue, usYTicks, 2, usPrograms,
  { padRight: 7, titleTop: 20.2, titleBottom: 39.2, yWidth: 38, yPad: 8 });
renderPanel('euChart', 'EU to EU', euTime, euValue, euYTicks, 3, euPrograms,
  { padRight: 5, titleTop: 32.2, titleBottom: 36.2, yWidth: 68, yPad: 10 });
</script>
</body>
</html>
